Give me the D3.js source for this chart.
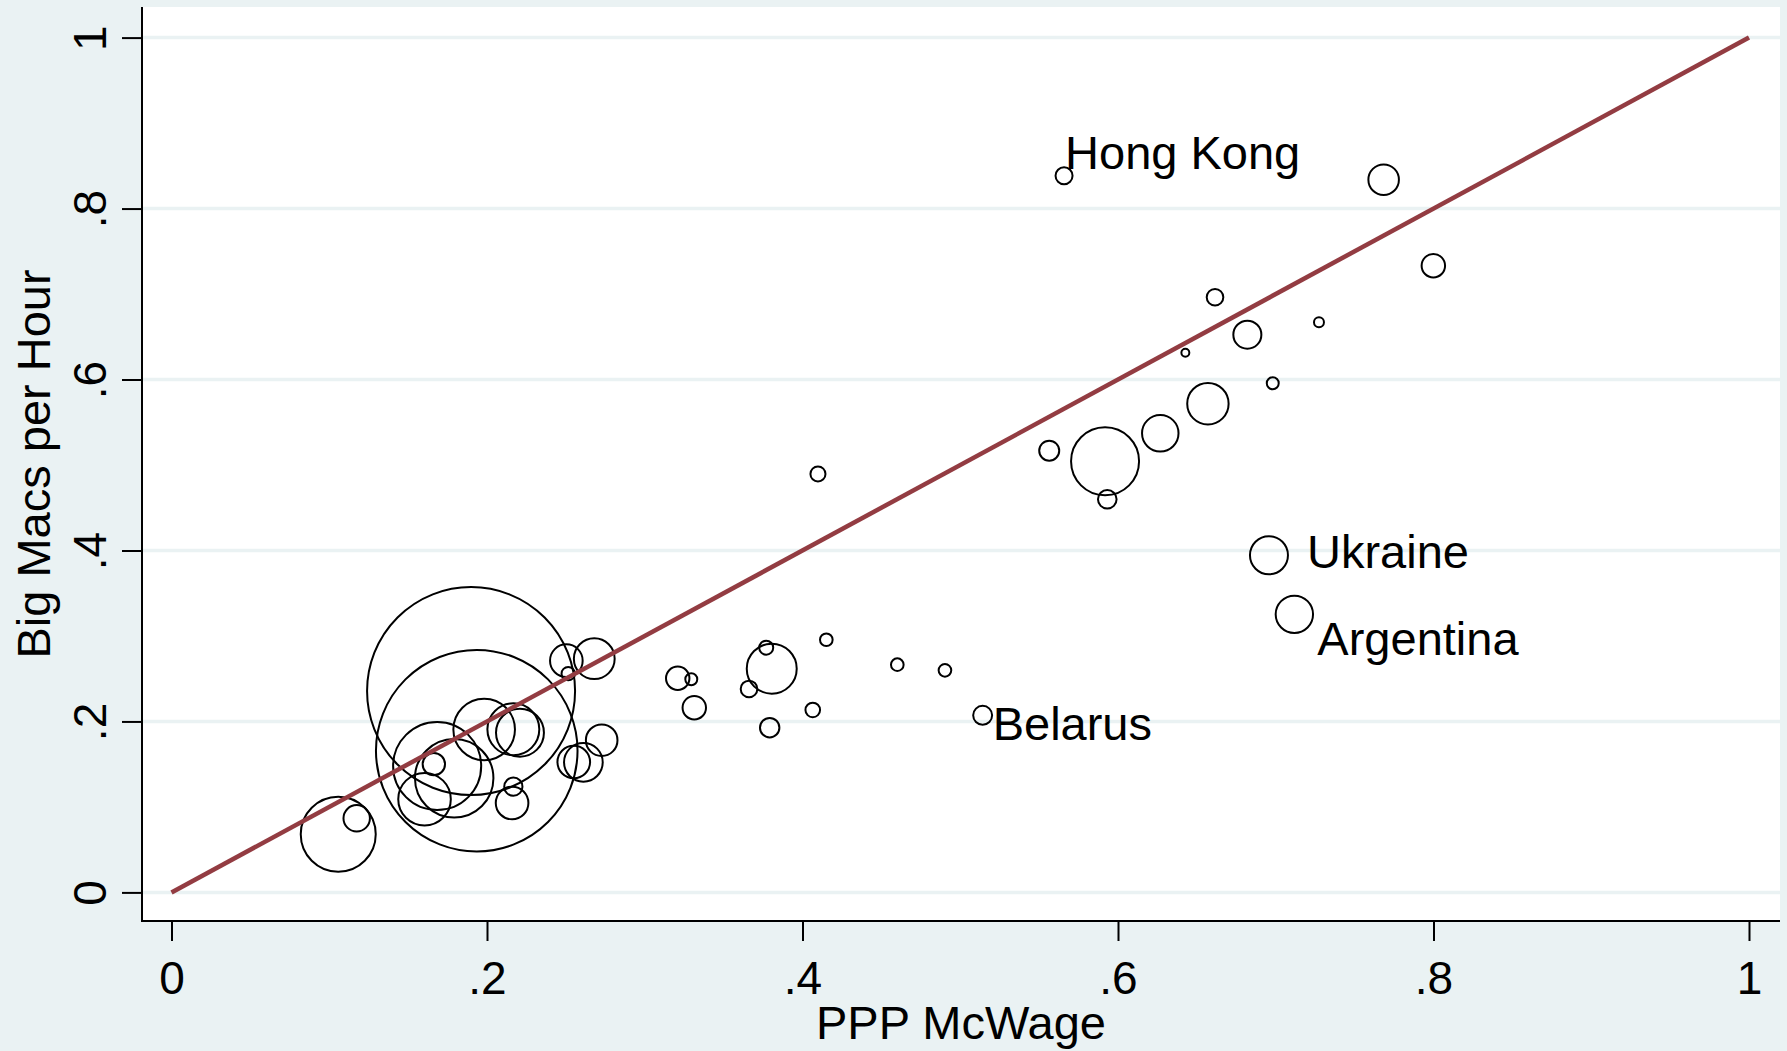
<!DOCTYPE html>
<html>
<head>
<meta charset="utf-8">
<title>Big Macs per Hour vs PPP McWage</title>
<script src="https://cdn.jsdelivr.net/npm/d3@7"></script>
<style>
	body { margin: 0; background: #eaf2f3; }
	svg { display: block; font-family: "Liberation Sans", Arial, sans-serif; }
</style>
</head>
<body>
<svg></svg>
<script>
const width = 1787;
const height = 1051;
// edges of the white plot region
const region = {left: 142, top: 7, right: 1780, bottom: 921};
const bg = '#eaf2f3';
const fitColor = '#933c42';

// data (weight sets bubble area)
const wage = [
	0.1057, 0.1174, 0.1604, 0.1663, 0.1684, 0.1792, 0.1899, 0.1935, 0.1982, 0.2159,
	0.2167, 0.2167, 0.2209, 0.2503, 0.2515, 0.2550, 0.2611, 0.2680, 0.2727, 0.3209,
	0.3295, 0.3314, 0.3661, 0.3770, 0.3792, 0.3805, 0.4065, 0.4098, 0.4151, 0.4601,
	0.4903, 0.5142, 0.5564, 0.5658, 0.5918, 0.5932, 0.6268, 0.6427, 0.6570, 0.6615,
	0.6820, 0.6957, 0.6981, 0.7118, 0.7274, 0.7684, 0.7999
];
const bigMacs = [
	0.0680, 0.0867, 0.1090, 0.1500, 0.1479, 0.1335, 0.2356, 0.1658, 0.1906, 0.1046,
	0.1237, 0.1908, 0.1868, 0.2711, 0.2559, 0.1526, 0.1522, 0.2734, 0.1780, 0.2505,
	0.2493, 0.2161, 0.2380, 0.2863, 0.1927, 0.2617, 0.2134, 0.4895, 0.2956, 0.2664,
	0.2598, 0.2072, 0.5167, 0.8384, 0.5043, 0.4599, 0.5371, 0.6314, 0.5717, 0.6962,
	0.6524, 0.3944, 0.5956, 0.3253, 0.6669, 0.8338, 0.7332
];
const weight = [
	169, 21, 83, 15, 233, 185, 1300, 1221, 114, 32,
	10, 81, 69, 32, 5.4, 32, 45, 50, 30, 16.5,
	4.3, 16.5, 8.3, 5.9, 11.3, 75, 6.4, 6.8, 4.8, 4.8,
	4.8, 10.8, 12, 8.7, 139, 10.4, 40, 1.9, 51.5, 8.3,
	23.6, 43.4, 4.3, 42, 3, 28, 16.5
];
const country = [];
country[31] = 'Belarus';
country[33] = 'Hong Kong';
country[41] = 'Ukraine';
country[43] = 'Argentina';

const fitX = [0, 1];
const fitY = [0, 1];
const xTicks = [0, 0.2, 0.4, 0.6, 0.8, 1];
const yTicks = [0, 0.2, 0.4, 0.6, 0.8, 1];
const xTitle = 'PPP McWage';
const yTitle = 'Big Macs per Hour';

// where each marker label sits relative to its circle
const labelOffset = {
	'Hong Kong': [1, -7],
	'Ukraine': [38, 13],
	'Argentina': [23, 41],
	'Belarus': [10, 25]
};

var svg, xScale, yScale, rScale, data;

function fmt(d){
	// stata style: .2 not 0.2
	return d == 0 || d == 1 ? String(d) : String(d).replace(/^0/, '');
}

function init(){
	svg = d3.select('svg').attr('width', width).attr('height', height);

	xScale = d3.scaleLinear().domain([0, 1]).range([171.5, 1749]);
	yScale = d3.scaleLinear().domain([0, 1]).range([892.4, 37.6]);
	rScale = d3.scaleSqrt().domain([0, d3.max(weight)]).range([0, 104]);

	data = wage.map((x, i) => ({x: x, y: bigMacs[i], w: weight[i], name: country[i]}));

	svg.append('rect')
	.attr('width', width).attr('height', height)
	.attr('fill', bg);

	svg.append('rect')
	.attr('x', region.left).attr('y', region.top)
	.attr('width', region.right - region.left)
	.attr('height', region.bottom - region.top)
	.attr('fill', '#fff');

	// gridlines
	svg.append('g').selectAll('line')
	.data(yTicks).enter().append('line')
	.attr('x1', region.left).attr('x2', region.right)
	.attr('y1', d => yScale(d)).attr('y2', d => yScale(d))
	.attr('stroke', bg).attr('stroke-width', 3.5);

	// bubbles
	svg.append('g').selectAll('circle')
	.data(data).enter().append('circle')
	.attr('cx', d => xScale(d.x)).attr('cy', d => yScale(d.y))
	.attr('r', d => rScale(d.w))
	.attr('fill', 'none')
	.attr('stroke', '#000').attr('stroke-width', 2);

	// 45 degree line
	var line = d3.line().x(d => xScale(d[0])).y(d => yScale(d[1]));
	svg.append('path')
	.datum(fitX.map((x, i) => [x, fitY[i]]))
	.attr('d', line)
	.attr('fill', 'none')
	.attr('stroke', fitColor).attr('stroke-width', 4.5);

	// marker labels
	svg.append('g').selectAll('text')
	.data(data.filter(d => d.name)).enter().append('text')
	.attr('x', d => xScale(d.x) + labelOffset[d.name][0])
	.attr('y', d => yScale(d.y) + labelOffset[d.name][1])
	.attr('font-size', 47)
	.text(d => d.name);

	// x axis
	var xAxis = svg.append('g')
	.attr('transform', `translate(0,${region.bottom})`)
	.call(d3.axisBottom(xScale).tickValues(xTicks).tickFormat(fmt)
		.tickSize(20).tickPadding(20).tickSizeOuter(0));
	xAxis.select('.domain').remove();
	xAxis.selectAll('.tick line').attr('stroke-width', 2);
	xAxis.selectAll('.tick text').attr('font-size', 46).attr('fill', '#000');

	// y axis, labels turned on their side
	var yAxis = svg.append('g')
	.attr('transform', `translate(${region.left},0)`)
	.call(d3.axisLeft(yScale).tickValues(yTicks).tickFormat(fmt)
		.tickSize(20).tickSizeOuter(0));
	yAxis.select('.domain').remove();
	yAxis.selectAll('.tick line').attr('stroke-width', 2);
	yAxis.selectAll('.tick text')
	.attr('x', null).attr('dy', null)
	.attr('text-anchor', 'middle')
	.attr('transform', 'translate(-36,0) rotate(-90)')
	.attr('font-size', 46).attr('fill', '#000');

	// axis lines along the plot region
	svg.append('line')
	.attr('x1', region.left).attr('x2', region.left)
	.attr('y1', region.top).attr('y2', region.bottom + 1)
	.attr('stroke', '#000').attr('stroke-width', 2);
	svg.append('line')
	.attr('x1', region.left - 1).attr('x2', region.right)
	.attr('y1', region.bottom).attr('y2', region.bottom)
	.attr('stroke', '#000').attr('stroke-width', 2);

	// axis titles
	svg.append('text')
	.attr('x', (region.left + region.right) / 2).attr('y', 1039)
	.attr('text-anchor', 'middle').attr('font-size', 47)
	.text(xTitle);
	svg.append('text')
	.attr('transform', `translate(50,${(region.top + region.bottom) / 2}) rotate(-90)`)
	.attr('text-anchor', 'middle').attr('font-size', 47)
	.text(yTitle);
}

init();
</script>
</body>
</html>
